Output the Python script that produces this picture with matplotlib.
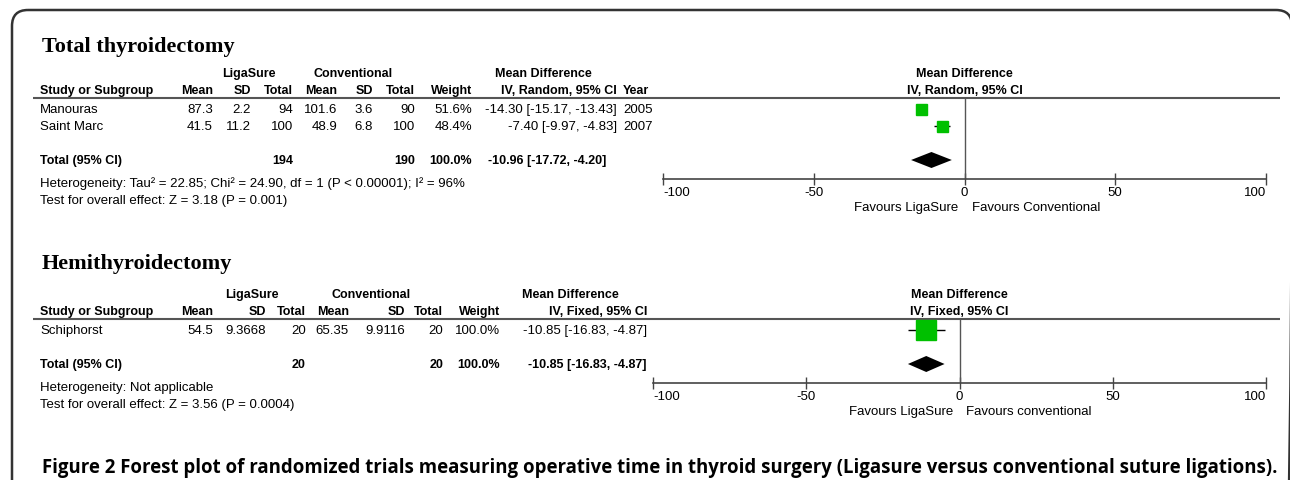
import matplotlib
matplotlib.use("Agg")
import matplotlib.pyplot as plt
from matplotlib.patches import FancyBboxPatch

# ---------------- data: total thyroidectomy (IV, random) ----------------
tt_studies = ["Manouras", "Saint Marc"]
tt_liga_mean = [87.3, 41.5]
tt_liga_sd = [2.2, 11.2]
tt_liga_n = [94, 100]
tt_conv_mean = [101.6, 48.9]
tt_conv_sd = [3.6, 6.8]
tt_conv_n = [90, 100]
tt_weight = [51.6, 48.4]
tt_md = [-14.30, -7.40]
tt_lo = [-15.17, -9.97]
tt_hi = [-13.43, -4.83]
tt_year = [2005, 2007]
tt_pooled = [-10.96, -17.72, -4.20]
tt_totals = [194, 190, 100.0]
tt_het = "Heterogeneity: Tau² = 22.85; Chi² = 24.90, df = 1 (P < 0.00001); I² = 96%"
tt_test = "Test for overall effect: Z = 3.18 (P = 0.001)"

# ---------------- data: hemithyroidectomy (IV, fixed) ----------------
ht_studies = ["Schiphorst"]
ht_liga_mean = [54.5]
ht_liga_sd = [9.3668]
ht_liga_n = [20]
ht_conv_mean = [65.35]
ht_conv_sd = [9.9116]
ht_conv_n = [20]
ht_weight = [100.0]
ht_md = [-10.85]
ht_lo = [-16.83]
ht_hi = [-4.87]
ht_pooled = [-10.85, -16.83, -4.87]
ht_totals = [20, 20, 100.0]
ht_het = "Heterogeneity: Not applicable"
ht_test = "Test for overall effect: Z = 3.56 (P = 0.0004)"

ticks = [-100, -50, 0, 50, 100]
caption = ("Figure 2 Forest plot of randomized trials measuring operative time in thyroid "
           "surgery (Ligasure versus conventional suture ligations).")

W, H = 1290, 481
GREEN = "#00c000"
SANS = "Liberation Sans"
FS = 9.5
FSB = 9
ROW = 17  # pixels per table row

fig = plt.figure(figsize=(W / 100, H / 100), dpi=100)
bg = fig.add_axes([0, 0, 1, 1])
bg.set_xlim(0, W)
bg.set_ylim(H, 0)
bg.axis("off")

# rounded frame, right and bottom sides run off the picture
bg.add_patch(FancyBboxPatch((12, 11), 1280, 700, boxstyle="round,pad=0,rounding_size=16",
                            fill=False, ec="#333333", lw=1.8))


def fmt_ci(m, lo, hi):
    return f"{m:.2f} [{lo:.2f}, {hi:.2f}]"


def panel(title, ytitle, y_row0, studies, lm, lsd, ln, cm, csd, cn, wt, md, lo, hi,
          pooled, totals, het, test, cols, grp_centers, method, years, sq_px,
          fx0, fx1, fav_right, tot_ci_right):
    t = dict(fontsize=FS, family=SANS, va="center")
    tb = dict(fontsize=FSB, family=SANS, va="center", weight="bold")
    bg.text(42, ytitle, title, fontsize=16, family="Liberation Serif", weight="bold", va="center")

    yh1 = y_row0 - 36
    yh2 = y_row0 - 19
    yline = y_row0 - 11
    bg.text(grp_centers[0], yh1, "LigaSure", ha="center", **tb)
    bg.text(grp_centers[1], yh1, "Conventional", ha="center", **tb)
    bg.text(grp_centers[2], yh1, "Mean Difference", ha="center", **tb)
    bg.text(40, yh2, "Study or Subgroup", ha="left", **tb)
    for x, lab in zip(cols, ["Mean", "SD", "Total", "Mean", "SD", "Total", "Weight",
                             f"IV, {method}, 95% CI"]):
        bg.text(x, yh2, lab, ha="right", **tb)
    if years:
        bg.text(623, yh2, "Year", ha="left", **tb)
    fxc = (fx0 + fx1) / 2
    bg.text(fxc, yh1, "Mean Difference", ha="center", **tb)
    bg.text(fxc, yh2, f"IV, {method}, 95% CI", ha="center", **tb)
    bg.plot([33, 1280], [yline, yline], color="#555555", lw=1.5, solid_capstyle="butt")

    for i, s in enumerate(studies):
        y = y_row0 + i * ROW
        vals = [str(lm[i]), str(lsd[i]), str(ln[i]), str(cm[i]), str(csd[i]), str(cn[i]),
                f"{wt[i]:.1f}%", fmt_ci(md[i], lo[i], hi[i])]
        bg.text(40, y, s, ha="left", **t)
        for x, v in zip(cols, vals):
            bg.text(x, y, v, ha="right", **t)
        if years:
            bg.text(623, y, str(years[i]), ha="left", **t)

    y_tot = y_row0 + (len(studies) + 1) * ROW
    bg.text(40, y_tot, "Total (95% CI)", ha="left", **tb)
    bg.text(cols[2], y_tot, str(totals[0]), ha="right", **tb)
    bg.text(cols[5], y_tot, str(totals[1]), ha="right", **tb)
    bg.text(cols[6], y_tot, f"{totals[2]:.1f}%", ha="right", **tb)
    bg.text(tot_ci_right, y_tot, fmt_ci(*pooled), ha="right", **tb)
    bg.text(40, y_tot + 23, het, ha="left", **t)
    bg.text(40, y_tot + 40, test, ha="left", **t)

    # forest axes: rows in table-row units, x in mean-difference units
    y_axis = y_tot + 19
    top_r = (yline - y_row0) / ROW
    bot_r = (y_axis - y_row0) / ROW
    ax = fig.add_axes([fx0 / W, 1 - y_axis / H, (fx1 - fx0) / W, (y_axis - yline) / H])
    ax.patch.set_alpha(0)
    ax.set_xlim(ticks[0], ticks[-1])
    ax.set_ylim(bot_r, top_r)
    for sp in ["top", "left", "right"]:
        ax.spines[sp].set_visible(False)
    ax.spines["bottom"].set_color("#444444")
    ax.spines["bottom"].set_linewidth(1.2)
    ax.set_yticks([])
    ax.set_xticks(ticks)
    ax.set_xticklabels([str(v) for v in ticks], fontsize=FS, family=SANS)
    labs = ax.get_xticklabels()
    labs[0].set_ha("left")
    labs[-1].set_ha("right")
    ax.tick_params(axis="x", direction="inout", length=8, width=1, color="#444444", pad=1)
    ax.axvline(0, color="#555555", lw=1)

    rows = list(range(len(studies)))
    ax.hlines(rows, lo, hi, color="black", lw=1)
    for r, m, px in zip(rows, md, sq_px):
        ax.plot(m, r, marker="s", ms=px * 0.72, mfc=GREEN, mec=GREEN, ls="none")
    r_tot = len(studies) + 1
    hd = 8 / ROW
    ax.fill([pooled[1], pooled[0], pooled[2], pooled[0]],
            [r_tot, r_tot - hd, r_tot, r_tot + hd], color="black", lw=0)

    bg.text(fxc - 6, y_axis + 28, "Favours LigaSure", ha="right", **t)
    bg.text(fxc + 7, y_axis + 28, fav_right, ha="left", **t)
    return ax


panel("Total thyroidectomy", 47, 110, tt_studies, tt_liga_mean, tt_liga_sd, tt_liga_n,
      tt_conv_mean, tt_conv_sd, tt_conv_n, tt_weight, tt_md, tt_lo, tt_hi,
      tt_pooled, tt_totals, tt_het, tt_test,
      [213, 251, 293, 337, 373, 415, 472, 617], [249, 353, 543], "Random", tt_year,
      [11, 11], 663, 1266, "Favours Conventional", 606)

panel("Hemithyroidectomy", 264, 331, ht_studies, ht_liga_mean, ht_liga_sd, ht_liga_n,
      ht_conv_mean, ht_conv_sd, ht_conv_n, ht_weight, ht_md, ht_lo, ht_hi,
      ht_pooled, ht_totals, ht_het, ht_test,
      [213, 266, 306, 349, 405, 443, 500, 647], [252, 371, 570], "Fixed", None,
      [20], 653, 1266, "Favours conventional", 647)

# caption, sized to span the same width as the original
cap = bg.text(42, 468, caption, family="Open Sans", weight="bold", fontsize=12,
              va="center", ha="left")
r = fig.canvas.get_renderer()
w = cap.get_window_extent(r).width
cap.set_fontsize(12 * (1272 - 42) / w)

fig.savefig("out.png", dpi=100)
